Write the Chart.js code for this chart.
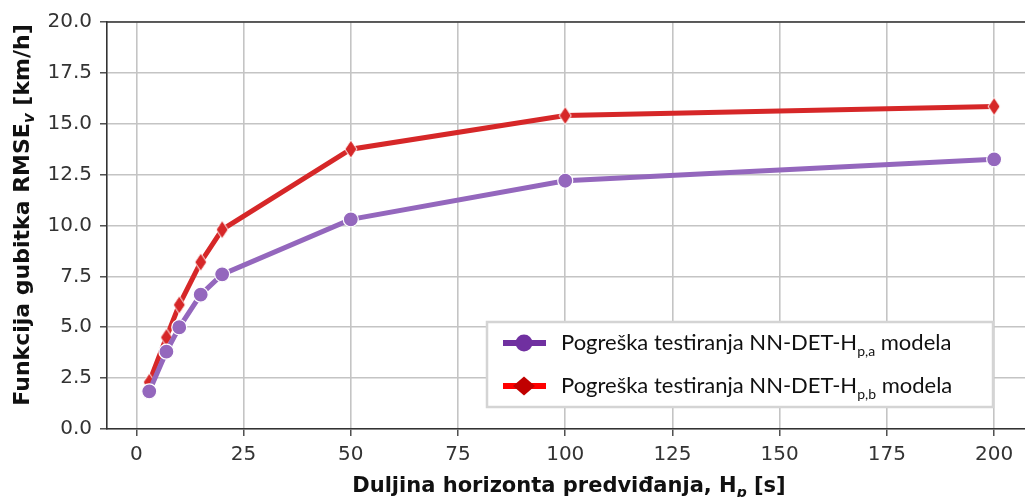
<!DOCTYPE html>
<html>
<head>
<meta charset="utf-8">
<script src="https://cdn.jsdelivr.net/npm/chart.js@4/dist/chart.umd.min.js"></script>
<style>
  html, body { margin: 0; padding: 0; background: #fff; overflow: hidden; }
  #wrap { position: relative; width: 1038px; height: 497px; }
</style>
</head>
<body>
<div id="wrap"><canvas id="c" width="1038" height="497"></canvas></div>
<script>
// Prediction horizon H_p [s]
const horizons = [3, 7, 10, 15, 20, 50, 100, 200];
// Test RMSE [km/h] of the two models
const rmseA = [1.85, 3.8, 5.0, 6.6, 7.6, 10.3, 12.2, 13.25];
const rmseB = [2.3, 4.5, 6.1, 8.2, 9.8, 13.75, 15.4, 15.85];

const xTitleParts = [['Duljina horizonta predviđanja, H', false], ['p', true], [' [s]', false]];
const yTitleParts = [['Funkcija gubitka RMSE', false], ['v', true], [' [km/h]', false]];
const legendA = [['Pogreška testiranja NN-DET-H', false], ['p,a', true], [' modela', false]];
const legendB = [['Pogreška testiranja NN-DET-H', false], ['p,b', true], [' modela', false]];

const purple = '#9467bd';
const red = '#d62728';

// thin diamond marker (matplotlib-style 'd')
function thinDiamond(w, h, fill) {
  const c = document.createElement('canvas');
  c.width = w + 2; c.height = h + 2;
  const g = c.getContext('2d');
  g.beginPath();
  g.moveTo(c.width / 2, 1);
  g.lineTo(c.width - 1, c.height / 2);
  g.lineTo(c.width / 2, c.height - 1);
  g.lineTo(1, c.height / 2);
  g.closePath();
  g.fillStyle = fill; g.fill();
  g.strokeStyle = '#fff'; g.lineWidth = 1; g.stroke();
  return c;
}
const diamond = thinDiamond(12, 18, red);

// draw a run of text with italic subscript pieces
function drawRich(ctx, parts, x, y, size, bold, align, subItalic) {
  const w = bold ? 'bold ' : '';
  const fontMain = w + size + 'px "DejaVu Sans"';
  const subSize = Math.round(size * 0.68);
  const fontSub = (subItalic ? 'italic ' : '') + w + subSize + 'px "DejaVu Sans"';
  let total = 0;
  const widths = parts.map(([t, sub]) => {
    ctx.font = sub ? fontSub : fontMain;
    const m = ctx.measureText(t).width;
    total += m;
    return m;
  });
  let cx = align === 'center' ? x - total / 2 : x;
  ctx.textBaseline = 'alphabetic';
  ctx.textAlign = 'left';
  parts.forEach(([t, sub], i) => {
    ctx.font = sub ? fontSub : fontMain;
    ctx.fillText(t, cx, sub ? y + size * 0.22 : y);
    cx += widths[i];
  });
}

function drawRichFont(ctx, parts, x, y, family, size, color) {
  const subSize = Math.round(size * 0.64);
  let cx = x;
  ctx.fillStyle = color;
  ctx.textBaseline = 'alphabetic';
  ctx.textAlign = 'left';
  parts.forEach(([t, sub]) => {
    ctx.font = (sub ? subSize : size) + 'px ' + family;
    ctx.fillText(t, cx, sub ? y + size * 0.28 : y);
    cx += ctx.measureText(t).width;
  });
}

const decorations = {
  id: 'decorations',
  afterDraw(chart) {
    const ctx = chart.ctx;
    const a = chart.chartArea;
    ctx.save();
    // top spine
    ctx.strokeStyle = '#333';
    ctx.lineWidth = 1.6;
    ctx.beginPath();
    ctx.moveTo(a.left - 0.8, a.top);
    ctx.lineTo(a.right, a.top);
    ctx.stroke();

    // axis titles
    ctx.fillStyle = '#111';
    drawRich(ctx, xTitleParts, 569, 492, 21, true, 'center', true);
    ctx.save();
    ctx.translate(29, 215);
    ctx.rotate(-Math.PI / 2);
    drawRich(ctx, yTitleParts, 0, 0, 22, true, 'center', true);
    ctx.restore();

    // legend box
    const bx = 487, by = 322, bw = 506, bh = 85;
    ctx.fillStyle = '#fff';
    ctx.fillRect(bx, by, bw, bh);
    ctx.strokeStyle = '#d4d4d4';
    ctx.lineWidth = 2.5;
    ctx.strokeRect(bx, by, bw, bh);

    const rows = [
      { y: 343, parts: legendA, line: '#7030a0', mark: 'circle', mcol: '#7030a0' },
      { y: 386, parts: legendB, line: '#ff0000', mark: 'diamond', mcol: '#c00000' }
    ];
    rows.forEach(r => {
      ctx.strokeStyle = r.line;
      ctx.lineWidth = 6;
      ctx.beginPath();
      ctx.moveTo(503, r.y);
      ctx.lineTo(546, r.y);
      ctx.stroke();
      ctx.fillStyle = r.mcol;
      ctx.beginPath();
      if (r.mark === 'circle') {
        ctx.arc(524, r.y, 8.5, 0, Math.PI * 2);
      } else {
        ctx.moveTo(524, r.y - 9.5);
        ctx.lineTo(535, r.y);
        ctx.lineTo(524, r.y + 9.5);
        ctx.lineTo(513, r.y);
        ctx.closePath();
      }
      ctx.fill();
      drawRichFont(ctx, r.parts, 561, r.y + 7, 'Lato', 22, '#111');
    });
    ctx.restore();
  }
};

new Chart(document.getElementById('c'), {
  type: 'line',
  data: {
    labels: horizons,
    datasets: [
      {
        label: 'NN-DET-Hp,a',
        data: horizons.map((h, i) => ({ x: h, y: rmseA[i] })),
        borderColor: purple,
        borderWidth: 5,
        pointStyle: 'circle',
        pointRadius: 7.5,
        pointBackgroundColor: purple,
        pointBorderColor: '#fff',
        pointBorderWidth: 1.2,
        tension: 0
      },
      {
        label: 'NN-DET-Hp,b',
        data: horizons.map((h, i) => ({ x: h, y: rmseB[i] })),
        borderColor: red,
        borderWidth: 5,
        pointStyle: diamond,
        pointRadius: 8,
        tension: 0
      }
    ]
  },
  options: {
    responsive: false,
    animation: false,
    events: [],
    layout: { padding: { top: 22, right: 0, left: 0, bottom: 0 } },
    plugins: { legend: { display: false }, tooltip: { enabled: false } },
    scales: {
      x: {
        type: 'linear',
        min: -6.85,
        max: 207.2,
        afterFit: s => { s.height = 68; },
        grid: { color: '#c4c4c4', lineWidth: 1.6, tickLength: 7, tickColor: '#333', tickWidth: 1.3 },
        border: { color: '#333', width: 1.6 },
        ticks: {
          stepSize: 25,
          includeBounds: false,
          color: '#333',
          padding: 7,
          maxRotation: 0,
          font: { family: 'DejaVu Sans', size: 20 },
          callback: v => String(v)
        }
      },
      y: {
        min: 0,
        max: 20,
        afterFit: s => { s.width = 107; },
        grid: { color: '#c4c4c4', lineWidth: 1.6, tickLength: 7, tickColor: '#333', tickWidth: 1.3 },
        border: { color: '#333', width: 1.6 },
        ticks: {
          stepSize: 2.5,
          color: '#333',
          padding: 8,
          font: { family: 'DejaVu Sans', size: 20 },
          callback: v => Number(v).toFixed(1)
        }
      }
    }
  },
  plugins: [decorations]
});
</script>
</body>
</html>
